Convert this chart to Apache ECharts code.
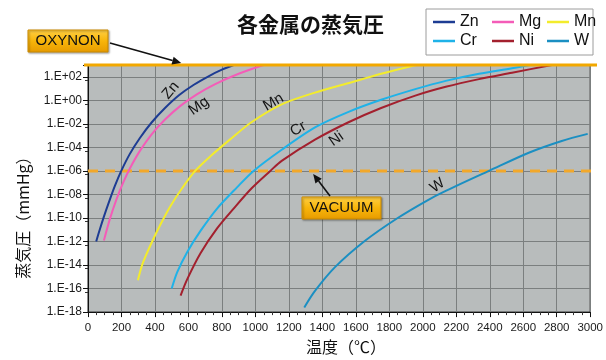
<!DOCTYPE html>
<html>
<head>
<meta charset="utf-8">
<script src="https://cdn.jsdelivr.net/npm/echarts@6/dist/echarts.min.js"></script>
<style>
  html, body { margin: 0; padding: 0; background: #ffffff; }
  #chart { width: 606px; height: 360px; }
</style>
</head>
<body>
<div id="chart"></div>
<script>
// Vapour pressure of metals (mmHg) against temperature (°C)
const metals = ['Zn', 'Mg', 'Mn', 'Cr', 'Ni', 'W'];

const znTemp = [49, 70, 95, 125, 160, 200, 250, 310, 380, 460, 545, 630, 720, 800, 870];
const znPres = [1.0e-12, 1.0e-11, 1.3e-10, 2.2e-9, 5.0e-8, 1.1e-6, 2.8e-5, 6.3e-4, 1.3e-2, 0.22, 2.8, 20, 110, 400, 1000];

const mgTemp = [95, 130, 170, 210, 250, 310, 380, 460, 550, 650, 760, 900, 1048];
const mgPres = [1.2e-12, 7.6e-11, 3.8e-9, 1.0e-7, 1.6e-6, 5.0e-5, 1.3e-3, 2.3e-2, 0.32, 3.2, 24, 180, 1000];

const mnTemp = [298, 326, 375, 435, 494, 563, 640, 732, 851, 974, 1157, 1356, 1553, 1751, 1960];
const mnPres = [5.0e-16, 1.3e-14, 5.6e-13, 3.2e-11, 1.1e-9, 3.5e-8, 1.0e-6, 1.8e-5, 5.0e-4, 1.3e-2, 0.45, 4.5, 28, 180, 1000];

const crTemp = [500, 533, 593, 672, 771, 890, 989, 1157, 1356, 1553, 1751, 1955, 2137, 2336, 2533, 2640];
const crPres = [1.0e-16, 2.5e-15, 1.3e-13, 7.9e-12, 6.3e-10, 4.0e-8, 1.0e-6, 6.3e-5, 5.0e-3, 0.10, 1.1, 8.9, 45, 180, 520, 1000];

const niTemp = [553, 593, 672, 771, 870, 979, 1089, 1157, 1356, 1553, 1751, 1955, 2137, 2336, 2533, 2771];
const niPres = [2.5e-17, 6.3e-16, 1.0e-13, 1.3e-11, 6.3e-10, 3.5e-8, 1.0e-6, 7.1e-6, 4.5e-4, 1.3e-2, 0.22, 2.5, 14, 63, 220, 1000];

const wTemp = [1292, 1356, 1474, 1653, 1850, 2028, 2137, 2395, 2633, 2830, 2985];
const wPres = [2.5e-18, 6.3e-17, 6.3e-15, 1.1e-12, 1.0e-10, 3.2e-9, 2.0e-8, 1.0e-6, 3.5e-5, 3.5e-4, 1.4e-3];

// Reference pressure levels
const oxynonLevel = 1000;   // mmHg
const vacuumLevel = 1e-6;   // mmHg

// Axis ranges
const tempMin = 0, tempMax = 3000, tempStep = 200;
const presMin = 1e-18, presMax = 1e3;

// Where each curve's name sits: [°C, mmHg]
const curveLabelAt = {
  Zn: [494, 6.8],
  Mg: [662, 0.32],
  Mn: [1108, 0.7],
  Cr: [1256, 3.7e-3],
  Ni: [1484, 5.2e-4],
  W:  [2088, 5.6e-8]
};
const curveLabelAngle = { Zn: 50, Mg: 35, Mn: 30, Cr: 30, Ni: 35, W: 35 };

const colors = {
  Zn: '#1d3c93',
  Mg: '#f45cb8',
  Mn: '#f3ec2c',
  Cr: '#1fb2e8',
  Ni: '#a3202e',
  W:  '#1b8fc2'
};

const seriesData = {
  Zn: [znTemp, znPres],
  Mg: [mgTemp, mgPres],
  Mn: [mnTemp, mnPres],
  Cr: [crTemp, crPres],
  Ni: [niTemp, niPres],
  W:  [wTemp, wPres]
};

const latin = '"Liberation Sans", Arial, Helvetica, sans-serif';
const cjk = '"Noto Sans CJK JP", "Liberation Sans", sans-serif';

function expLabel(v) {
  const e = Math.round(Math.log10(v));
  if (e > 2) return '';
  const s = e < 0 ? '-' : '+';
  return '1.E' + s + String(Math.abs(e)).padStart(2, '0');
}

const legendCommon = {
  orient: 'vertical',
  padding: 0,
  icon: 'rect',
  itemWidth: 22,
  itemHeight: 2.5,
  itemGap: 3,
  textStyle: { fontSize: 16, color: '#111', fontFamily: latin }
};

const option = {
  animation: false,
  backgroundColor: '#ffffff',
  title: {
    text: '各金属の蒸気圧',
    left: 237,
    top: 14,
    padding: 0,
    textStyle: { fontSize: 21, fontWeight: 'bold', color: '#111', fontFamily: cjk }
  },
  legend: [
    Object.assign({ left: 433, top: 14, data: ['Zn', 'Cr'] }, legendCommon),
    Object.assign({ left: 492, top: 14, data: ['Mg', 'Ni'] }, legendCommon),
    Object.assign({ left: 547, top: 14, data: ['Mn', 'W'] }, legendCommon)
  ],
  grid: {
    left: 88, top: 65, width: 503, height: 249,
    show: true,
    backgroundColor: '#b8bcbc',
    borderColor: '#1a1a1a',
    borderWidth: 1
  },
  xAxis: {
    type: 'value',
    min: tempMin, max: tempMax, interval: tempStep,
    axisLine: { show: true, lineStyle: { color: '#111', width: 1 } },
    axisTick: { show: true, length: 5, lineStyle: { color: '#111' } },
    minorTick: { show: true, splitNumber: 4, length: 3, lineStyle: { color: '#333' } },
    splitLine: { show: true, lineStyle: { color: '#7b7f7f', width: 1 } },
    axisLabel: {
      formatter: function (v) { return String(v); },
      fontSize: 11.5, color: '#1a1a1a', margin: 10, fontFamily: latin
    },
    name: '温度（℃）',
    nameLocation: 'middle',
    nameGap: 26,
    nameTextStyle: { fontSize: 16, color: '#111', fontFamily: cjk, padding: [0, 0, 0, 14] }
  },
  yAxis: {
    type: 'log', logBase: 10,
    min: presMin, max: presMax, interval: 2,
    axisLine: { show: true, lineStyle: { color: '#111', width: 1 } },
    axisTick: { show: true, length: 5, lineStyle: { color: '#111' } },
    minorTick: { show: true, splitNumber: 2, length: 3, lineStyle: { color: '#333' } },
    splitLine: { show: true, lineStyle: { color: '#7b7f7f', width: 1 } },
    axisLabel: { formatter: expLabel, fontSize: 12, color: '#1a1a1a', margin: 6, fontFamily: latin },
    name: '蒸気圧（mmHg）',
    nameLocation: 'middle',
    nameGap: 57,
    nameTextStyle: { fontSize: 16, color: '#111', fontFamily: cjk, padding: [0, 50, 0, 0] }
  },
  series: metals.map(function (m) {
    const t = seriesData[m][0], p = seriesData[m][1];
    return {
      type: 'line',
      name: m,
      data: t.map(function (x, i) { return [x, p[i]]; }),
      symbol: 'none',
      smooth: 0.3,
      lineStyle: { width: 2, color: colors[m] },
      itemStyle: { color: colors[m] },
      markPoint: {
        silent: true,
        symbol: 'circle',
        symbolSize: 0,
        data: [{
          coord: curveLabelAt[m],
          label: {
            show: true,
            position: 'inside',
            formatter: m,
            rotate: curveLabelAngle[m],
            fontSize: 15,
            color: '#151515',
            fontFamily: latin
          }
        }]
      }
    };
  })
};

const chart = echarts.init(document.getElementById('chart'), null, { renderer: 'canvas' });
chart.setOption(option);

// Annotation: reference levels, tag boxes and pointing arrows
function arrow(x1, y1, x2, y2) {
  const a = Math.atan2(y2 - y1, x2 - x1), L = 9, W = 4;
  const bx = x2 - L * Math.cos(a), by = y2 - L * Math.sin(a);
  return [
    { type: 'line', z: 20, shape: { x1: x1, y1: y1, x2: bx, y2: by }, style: { stroke: '#111', lineWidth: 1.6 } },
    { type: 'polygon', z: 20, shape: { points: [[x2, y2], [bx - W * Math.sin(a), by + W * Math.cos(a)], [bx + W * Math.sin(a), by - W * Math.cos(a)]] }, style: { fill: '#111' } }
  ];
}

function tag(x, y, w, h, text) {
  return [
    {
      type: 'rect', z: 20,
      shape: { x: x, y: y, width: w, height: h },
      style: {
        fill: new echarts.graphic.LinearGradient(0, 0, 0, 1, [
          { offset: 0, color: '#ffd046' },
          { offset: 0.5, color: '#f8b50a' },
          { offset: 1, color: '#e79b00' }
        ]),
        stroke: '#cf8d00', lineWidth: 1,
        shadowBlur: 2, shadowColor: 'rgba(0,0,0,0.35)', shadowOffsetX: 1, shadowOffsetY: 1
      }
    },
    {
      type: 'text', z: 21,
      x: x + w / 2, y: y + h / 2,
      style: { text: text, align: 'center', verticalAlign: 'middle', fontSize: 15, fill: '#111', fontFamily: latin }
    }
  ];
}

const topY = chart.convertToPixel({ gridIndex: 0 }, [tempMin, oxynonLevel])[1];
const vacY = chart.convertToPixel({ gridIndex: 0 }, [tempMin, vacuumLevel])[1];
const oxTip = chart.convertToPixel({ gridIndex: 0 }, [557, oxynonLevel]);
const vacTip = chart.convertToPixel({ gridIndex: 0 }, [1345, vacuumLevel]);

const elements = [
  {
    type: 'rect', z: 1,
    shape: { x: 426, y: 9, width: 167, height: 46 },
    style: { fill: '#ffffff', stroke: '#9c9c9c', lineWidth: 1 }
  },
  {
    type: 'line', z: 1,
    shape: { x1: 88, y1: vacY, x2: 597, y2: vacY },
    style: { stroke: '#f2a82a', lineWidth: 3, lineDash: [10, 7] }
  },
  {
    type: 'line', z: 15,
    shape: { x1: 84, y1: topY, x2: 597, y2: topY },
    style: { stroke: '#f2a800', lineWidth: 3 }
  }
].concat(
  tag(28, 30, 80, 22, 'OXYNON'),
  arrow(110, 43, oxTip[0], oxTip[1] - 2),
  tag(302, 197, 79, 22, 'VACUUM'),
  arrow(330, 196, vacTip[0], vacTip[1] + 3)
);

chart.setOption({ graphic: { elements: elements } });
</script>
</body>
</html>
